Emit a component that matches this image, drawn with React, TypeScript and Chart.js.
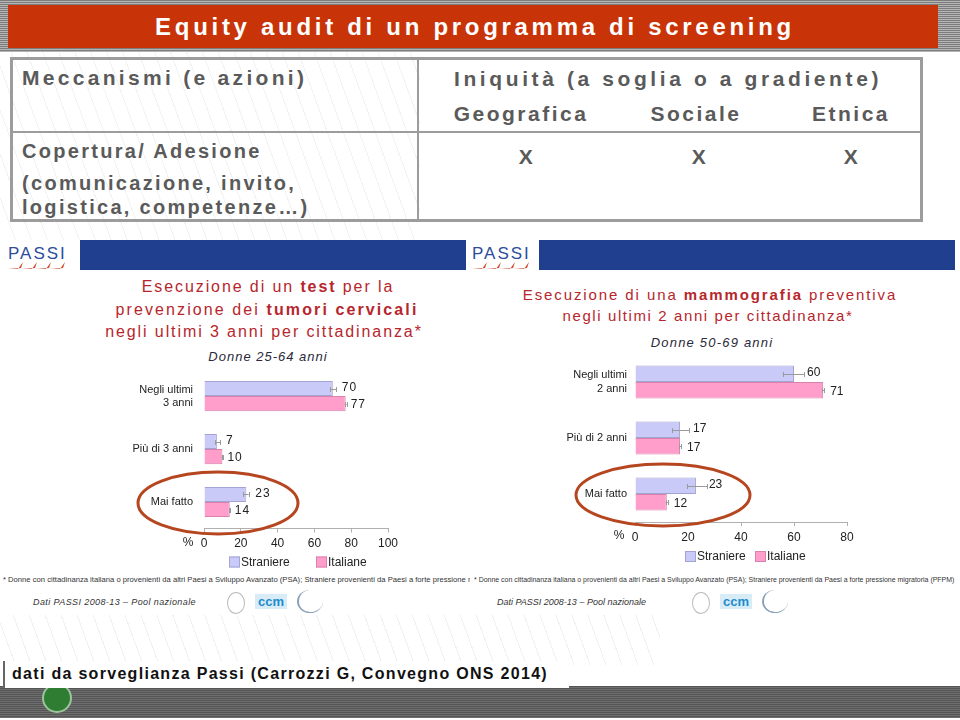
import React, { useEffect, useRef } from "react";
import { Chart, registerables } from "chart.js";
Chart.register(...registerables);

// ---------- DATA ----------
const seriesNames = ["Straniere", "Italiane"];

const cervCategories: (string | string[])[] = [["Negli ultimi", "3 anni"], "Più di 3 anni", "Mai fatto"];
const cervStraniere = [70, 7, 23];
const cervItaliane = [77, 10, 14];
const cervStranLow = [68.5, 6, 21.3];
const cervStranHigh = [72, 8.7, 24.3];
const cervItalLow = [76.5, 9.6, 13.6];
const cervItalHigh = [77.5, 10.4, 14.4];
const cervTicks = [0, 20, 40, 60, 80, 100];

const mammCategories: (string | string[])[] = [["Negli ultimi", "2 anni"], "Più di 2 anni", "Mai fatto"];
const mammStraniere = [60, 17, 23];
const mammItaliane = [71, 17, 12];
const mammStranLow = [55.7, 14, 19.6];
const mammStranHigh = [63.8, 20.4, 27.2];
const mammItalLow = [70.5, 16.6, 11.6];
const mammItalHigh = [71.5, 17.4, 12.4];
const mammTicks = [0, 20, 40, 60, 80];

// ---------- STYLE ----------
const STRAN_FILL = "#CACAF8";
const STRAN_LINE = "#A4A4D4";
const ITAL_FILL = "#FF9DCB";
const ITAL_LINE = "#D883AE";
const RED_TITLE = "#B7262C";
const SANS = "'Liberation Sans', Arial, sans-serif";

type ChartProps = {
  left: number; top: number; width: number; height: number;
  categories: (string | string[])[];
  stran: number[]; ital: number[];
  stranLo: number[]; stranHi: number[]; italLo: number[]; italHi: number[];
  ticks: number[];
  yWidth: number; yPad: number; padTop: number; padRight: number; padBottom: number;
  catPct: number;
  labelOffsets: number[];
  labelSpacing: string;
  ellipse: { dx: number; rx: number; ry: number; dy: number };
  legend: { dy: number; x1: number; x2: number };
};

function BarChart(p: ChartProps) {
  const ref = useRef<HTMLCanvasElement | null>(null);
  useEffect(() => {
    if (!ref.current) return;
    const annot = {
      id: "annot",
      afterDatasetsDraw(chart: any) {
        const ctx = chart.ctx;
        const xs = chart.scales.x;
        const los = [p.stranLo, p.italLo];
        const his = [p.stranHi, p.italHi];
        ctx.save();
        for (let d = 0; d < 2; d++) {
          const meta = chart.getDatasetMeta(d);
          meta.data.forEach((el: any, i: number) => {
            const x1 = xs.getPixelForValue(los[d][i]);
            const x2 = xs.getPixelForValue(his[d][i]);
            const y = Math.round(el.y);
            ctx.strokeStyle = "#9a9a9a";
            ctx.lineWidth = 1;
            ctx.beginPath();
            ctx.moveTo(x1, y + 0.5); ctx.lineTo(x2, y + 0.5);
            ctx.moveTo(Math.round(x1) + 0.5, y - 2); ctx.lineTo(Math.round(x1) + 0.5, y + 3);
            ctx.moveTo(Math.round(x2) + 0.5, y - 2); ctx.lineTo(Math.round(x2) + 0.5, y + 3);
            ctx.stroke();
          });
        }
        ctx.fillStyle = "#222";
        ctx.font = `12px ${SANS}`;
        (ctx as any).letterSpacing = p.labelSpacing;
        ctx.textBaseline = "middle";
        ctx.textAlign = "left";
        for (let d = 0; d < 2; d++) {
          const meta = chart.getDatasetMeta(d);
          const vals = d === 0 ? p.stran : p.ital;
          meta.data.forEach((el: any, i: number) => {
            ctx.fillText(String(vals[i]), el.x + p.labelOffsets[d], el.y + (d === 0 ? -1 : 1));
          });
        }
        (ctx as any).letterSpacing = "0px";
        ctx.restore();
      },
      afterDraw(chart: any) {
        const ctx = chart.ctx;
        const area = chart.chartArea;
        const ys = chart.scales.y;
        ctx.save();
        const cy = ys.getPixelForValue(2) + p.ellipse.dy;
        ctx.strokeStyle = "#B5461F";
        ctx.lineWidth = 3;
        ctx.beginPath();
        ctx.ellipse(area.left + p.ellipse.dx, cy, p.ellipse.rx, p.ellipse.ry, 0, 0, Math.PI * 2);
        ctx.stroke();
        ctx.fillStyle = "#222";
        ctx.font = `12px ${SANS}`;
        ctx.textAlign = "center";
        ctx.textBaseline = "middle";
        ctx.fillText("%", area.left - 16, area.bottom + 14);
        const ly = area.bottom + p.legend.dy;
        const items = [
          { x: area.left + p.legend.x1, fill: STRAN_FILL, line: STRAN_LINE, text: seriesNames[0] },
          { x: area.left + p.legend.x2, fill: ITAL_FILL, line: ITAL_LINE, text: seriesNames[1] },
        ];
        items.forEach((it) => {
          ctx.fillStyle = it.fill;
          ctx.fillRect(it.x, ly - 5, 11, 11);
          ctx.strokeStyle = it.line;
          ctx.lineWidth = 1;
          ctx.strokeRect(it.x + 0.5, ly - 4.5, 10, 10);
          ctx.fillStyle = "#222";
          ctx.textAlign = "left";
          ctx.fillText(it.text, it.x + 12, ly + 1);
        });
        ctx.restore();
      },
    };
    const chart = new Chart(ref.current, {
      type: "bar",
      data: {
        labels: p.categories as any,
        datasets: [
          { label: seriesNames[0], data: p.stran, backgroundColor: STRAN_FILL, borderColor: STRAN_LINE, borderWidth: 1, barPercentage: 1, categoryPercentage: p.catPct },
          { label: seriesNames[1], data: p.ital, backgroundColor: ITAL_FILL, borderColor: ITAL_LINE, borderWidth: 1, barPercentage: 1, categoryPercentage: p.catPct },
        ],
      },
      options: {
        indexAxis: "y",
        animation: false,
        responsive: false,
        devicePixelRatio: 1,
        layout: { padding: { top: p.padTop, right: p.padRight, bottom: p.padBottom, left: 0 } },
        scales: {
          x: {
            min: p.ticks[0],
            max: p.ticks[p.ticks.length - 1],
            afterBuildTicks: (s: any) => { s.ticks = p.ticks.map((v) => ({ value: v })); },
            afterFit: (s: any) => { s.height = 26; },
            grid: { display: true, drawOnChartArea: false, drawTicks: true, tickLength: 4, color: "#b0b0b0" },
            border: { display: true, color: "#b0b0b0" },
            ticks: { color: "#222", font: { family: SANS, size: 12 }, padding: 4, maxRotation: 0 },
          },
          y: {
            afterFit: (s: any) => { s.width = p.yWidth; },
            grid: { display: false },
            border: { display: false },
            ticks: { color: "#222", font: { family: SANS, size: 11 }, padding: p.yPad },
          },
        },
        plugins: { legend: { display: false }, tooltip: { enabled: false }, title: { display: false } },
      } as any,
      plugins: [annot as any],
    });
    return () => chart.destroy();
  }, []);
  return (
    <canvas
      ref={ref}
      width={p.width}
      height={p.height}
      style={{ position: "absolute", left: p.left, top: p.top, width: p.width, height: p.height }}
    />
  );
}

const Txt = ({ x, y, align = "left", sx = 1, style, children }: any) => {
  const tx = align === "center" ? "-50%" : align === "right" ? "-100%" : "0";
  const origin = align === "center" ? "center" : align === "right" ? "right" : "left";
  return (
    <div style={{ position: "absolute", left: x, top: y, transform: `translate(${tx},-50%) scaleX(${sx})`, transformOrigin: `${origin} center`, whiteSpace: "nowrap", lineHeight: 1, ...style }}>
      {children}
    </div>
  );
};

const PassiLogo = ({ x, y }: { x: number; y: number }) => (
  <svg style={{ position: "absolute", left: x, top: y }} width={70} height={30}>
    <text x={4} y={17} fontFamily={SANS} fontSize={17} fill="#2C4C9C" letterSpacing={2}>PASSI</text>
    {[0, 1, 2, 3].map((i) => (
      <path key={i} d={`M${4 + i * 14} 27 L${14 + i * 14} 27 L${19 + i * 14} 20 L${17 + i * 14} 26 Z`} fill="#D0462A" />
    ))}
  </svg>
);

const Logos = ({ x }: { x: number }) => (
  <>
    <div style={{ position: "absolute", left: x, top: 592, width: 16, height: 20, borderRadius: "50%", border: "1px solid #bbb" }} />
    <div style={{ position: "absolute", left: x + 28, top: 594, width: 32, height: 15, background: "#d8ecf7", color: "#1d8ccc", font: `bold 13px ${SANS}`, lineHeight: "15px", textAlign: "center" }}>ccm</div>
    <div style={{ position: "absolute", left: x + 70, top: 590, width: 24, height: 22, borderRadius: "50%", borderLeft: "2px solid #8aa0b8", borderBottom: "1px solid #8aa0b8" }} />
  </>
);

export default function App() {
  const head: React.CSSProperties = { fontFamily: SANS, fontWeight: "bold", fontSize: 21, color: "#5a5a5a", letterSpacing: 2.5 };
  const body: React.CSSProperties = { fontFamily: SANS, fontWeight: "bold", fontSize: 20, color: "#5a5a5a", letterSpacing: 2.3 };
  const red: React.CSSProperties = { fontFamily: SANS, fontSize: 16, color: RED_TITLE, letterSpacing: 1.9 };
  const redR: React.CSSProperties = { fontFamily: SANS, fontSize: 15, color: RED_TITLE, letterSpacing: 1.9 };
  const foot: React.CSSProperties = { font: `8px ${SANS}`, color: "#333", whiteSpace: "nowrap", transformOrigin: "left top" };
  return (
    <div style={{ position: "absolute", left: 0, top: 0, width: 960, height: 720, background: "#fff", overflow: "hidden" }}>
      <div style={{ position: "absolute", left: 0, top: 50, width: 420, height: 190, background: "repeating-linear-gradient(70deg, transparent 0 14px, #f2f2f2 14px 15px)" }} />
      <div style={{ position: "absolute", left: 0, top: 615, width: 660, height: 50, background: "repeating-linear-gradient(70deg, transparent 0 14px, #f0f0f0 14px 15px)" }} />

      {/* top banner */}
      <div style={{ position: "absolute", left: 0, top: 0, width: 960, height: 52, background: "repeating-linear-gradient(#7d7d7d 0 1px, #b5b5b5 1px 2px)" }} />
      <div style={{ position: "absolute", left: 8, top: 5, width: 930, height: 43, background: "#C83408" }} />
      <Txt x={475} y={27} align="center" style={{ fontFamily: SANS, fontWeight: "bold", fontSize: 24, color: "#fff", letterSpacing: 3.7 }}>
        Equity audit di un programma di screening
      </Txt>

      {/* table */}
      <div style={{ position: "absolute", left: 10, top: 57, width: 913, height: 165, border: "3px solid #9c9c9c", boxSizing: "border-box" }} />
      <div style={{ position: "absolute", left: 417, top: 57, width: 2, height: 165, background: "#9c9c9c" }} />
      <div style={{ position: "absolute", left: 10, top: 131, width: 913, height: 2, background: "#9c9c9c" }} />
      <Txt x={22} y={77} style={{ ...head, letterSpacing: 3.3 }}>Meccanismi (e azioni)</Txt>
      <Txt x={668} y={78} align="center" style={{ ...head, letterSpacing: 3.6 }}>Iniquità (a soglia o a gradiente)</Txt>
      <Txt x={521} y={113} align="center" style={head}>Geografica</Txt>
      <Txt x={696} y={113} align="center" style={head}>Sociale</Txt>
      <Txt x={851} y={113} align="center" style={head}>Etnica</Txt>
      <Txt x={22} y={151} style={body}>Copertura/ Adesione</Txt>
      <Txt x={22} y={183} style={body}>(comunicazione, invito,</Txt>
      <Txt x={22} y={207} style={body}>logistica, competenze…)</Txt>
      <Txt x={527} y={156} align="center" style={head}>X</Txt>
      <Txt x={700} y={156} align="center" style={head}>X</Txt>
      <Txt x={852} y={156} align="center" style={head}>X</Txt>

      {/* PASSI headers */}
      <PassiLogo x={4} y={242} />
      <div style={{ position: "absolute", left: 80, top: 240, width: 386, height: 30, background: "#213F8F" }} />
      <PassiLogo x={468} y={242} />
      <div style={{ position: "absolute", left: 539, top: 240, width: 416, height: 30, background: "#213F8F" }} />

      {/* left titles */}
      <Txt x={268} y={287} align="center" style={red}>Esecuzione di un <b>test</b> per la</Txt>
      <Txt x={267} y={310} align="center" style={{ ...red, letterSpacing: 2.1 }}>prevenzione dei <b>tumori cervicali</b></Txt>
      <Txt x={264} y={332} align="center" style={red}>negli ultimi 3 anni per cittadinanza*</Txt>
      <Txt x={268} y={356} align="center" style={{ fontFamily: SANS, fontSize: 13, fontStyle: "italic", color: "#2a2a3a", letterSpacing: 1 }}>Donne 25-64 anni</Txt>

      {/* right titles */}
      <Txt x={710} y={294} align="center" style={redR}>Esecuzione di una <b>mammografia</b> preventiva</Txt>
      <Txt x={708} y={315} align="center" style={{ ...redR, letterSpacing: 1.6 }}>negli ultimi 2 anni per cittadinanza*</Txt>
      <Txt x={712} y={342} align="center" style={{ fontFamily: SANS, fontSize: 13, fontStyle: "italic", color: "#2a2a3a", letterSpacing: 1.2 }}>Donne 50-69 anni</Txt>

      <BarChart
        left={120} top={360} width={360} height={215}
        categories={cervCategories}
        stran={cervStraniere} ital={cervItaliane}
        stranLo={cervStranLow} stranHi={cervStranHigh} italLo={cervItalLow} italHi={cervItalHigh}
        ticks={cervTicks}
        yWidth={84} yPad={3} padTop={9.5} padRight={92} padBottom={20.5}
        catPct={0.57}
        labelOffsets={[9, 5]}
        labelSpacing="1px"
        ellipse={{ dx: 14, rx: 80, ry: 31, dy: 1 }}
        legend={{ dy: 33, x1: 25, x2: 112 }}
      />
      <BarChart
        left={550} top={345} width={360} height={225}
        categories={mammCategories}
        stran={mammStraniere} ital={mammItaliane}
        stranLo={mammStranLow} stranHi={mammStranHigh} italLo={mammItalLow} italHi={mammItalHigh}
        ticks={mammTicks}
        yWidth={85} yPad={0} padTop={9} padRight={63} padBottom={22}
        catPct={0.59}
        labelOffsets={[13, 7]}
        labelSpacing="0px"
        ellipse={{ dx: 28, rx: 87, ry: 31, dy: 1 }}
        legend={{ dy: 34, x1: 50, x2: 120 }}
      />

      {/* footnotes */}
      <div style={{ position: "absolute", left: 3, top: 575, width: 467, height: 11, overflow: "hidden" }}>
        <div style={{ ...foot, transform: "scaleX(0.955)" }}>
          * Donne con cittadinanza italiana o provenienti da altri Paesi a Sviluppo Avanzato (PSA); Straniere provenienti da Paesi a forte pressione migratoria (PFPM)
        </div>
      </div>
      <div style={{ position: "absolute", left: 474, top: 575, width: 484, height: 11, overflow: "hidden" }}>
        <div style={{ ...foot, transform: "scaleX(0.87)" }}>
          * Donne con cittadinanza italiana o provenienti da altri Paesi a Sviluppo Avanzato (PSA); Straniere provenienti da Paesi a forte pressione migratoria (PFPM)
        </div>
      </div>
      <Txt x={33} y={602} style={{ fontFamily: SANS, fontSize: 9, fontStyle: "italic", color: "#333", letterSpacing: 0.4 }}>Dati PASSI 2008-13 – Pool nazionale</Txt>
      <Txt x={497} y={602} style={{ fontFamily: SANS, fontSize: 9, fontStyle: "italic", color: "#333", letterSpacing: 0 }}>Dati PASSI 2008-13 – Pool nazionale</Txt>
      <Logos x={227} />
      <Logos x={692} />

      {/* bottom band */}
      <div style={{ position: "absolute", left: 0, top: 686, width: 960, height: 32, background: "repeating-linear-gradient(#555 0 1px, #6e6e6e 1px 2px)" }} />
      <div style={{ position: "absolute", left: 42, top: 683, width: 30, height: 30, borderRadius: "50%", background: "#2E7D32", border: "2px solid #9bc59d", boxSizing: "border-box" }} />
      <div style={{ position: "absolute", left: 3, top: 661, width: 566, height: 27, background: "#fff", borderLeft: "2px solid #666", boxSizing: "border-box" }} />
      <Txt x={12} y={674} style={{ fontFamily: SANS, fontSize: 16, fontWeight: "bold", color: "#111", letterSpacing: 1.3 }}>
        dati da sorveglianza Passi (Carrozzi G, Convegno ONS 2014)
      </Txt>
    </div>
  );
}
